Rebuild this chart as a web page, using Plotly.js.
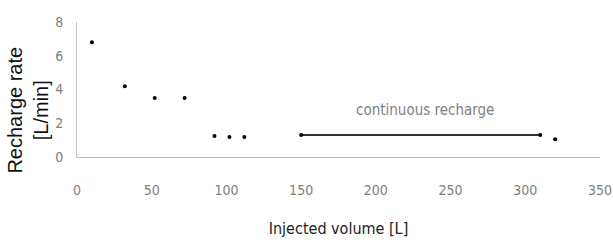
<!DOCTYPE html>
<html><head><meta charset="utf-8">
<script src="https://cdn.plot.ly/plotly-3.0.1.min.js"></script>
<style>body{margin:0;background:#fff}#c{width:613px;height:244px}</style>
</head><body><div id="c"></div>
<script>
const volume = [10, 32, 52, 72, 92, 102, 112, 320];
const rate = [6.8, 4.2, 3.5, 3.5, 1.25, 1.18, 1.18, 1.05];
const contVolume = [150, 310];
const contRate = [1.3, 1.3];
const xTicks = [0, 50, 100, 150, 200, 250, 300, 350];
const yTicks = [0, 2, 4, 6, 8];
const annText = "continuous recharge";
const annPos = [233, 2.8];
const yTitle = "Recharge rate<br>[L/min]";

const narrow = "DejaVu Sans Condensed, Liberation Sans Narrow, sans-serif";
const tickFont = {family: narrow, size: 14, color: "#7f7f7f"};
const data = [
  {x: volume, y: rate, type: "scatter", mode: "markers",
   marker: {color: "#000", size: 4}, hoverinfo: "none"},
  {x: contVolume, y: contRate, type: "scatter", mode: "lines+markers",
   line: {color: "#333", width: 2}, marker: {color: "#000", size: 4}, hoverinfo: "none"}
];
const layout = {
  width: 613, height: 244, showlegend: false,
  margin: {l: 77, r: 13, t: 22, b: 87},
  paper_bgcolor: "#fff", plot_bgcolor: "#fff",
  xaxis: {range: [0, 350], tickvals: xTicks, ticktext: xTicks.map(String),
    showgrid: false, zeroline: false, showline: true, linecolor: "#bfbfbf", linewidth: 1,
    ticks: "", tickfont: tickFont, ticklabelstandoff: 20,
    title: {text: "Injected volume [L]", font: {family: narrow, size: 16, color: "#222"}, standoff: 26}},
  yaxis: {range: [0, 8], tickvals: yTicks, ticktext: yTicks.map(String),
    showgrid: false, zeroline: false, showline: true, linecolor: "#bfbfbf", linewidth: 1,
    ticks: "", tickfont: tickFont, ticklabelstandoff: 10},
  annotations: [
    {x: annPos[0], y: annPos[1], text: annText, showarrow: false,
     font: {family: narrow, size: 15, color: "#7f7f7f"}},
    {xref: "paper", yref: "paper", x: -0.094, y: 0.35, xanchor: "center", yanchor: "middle",
     text: yTitle, textangle: -90, showarrow: false,
     font: {family: "Liberation Sans, Arial, sans-serif", size: 20, color: "#111"}}
  ]
};
Plotly.newPlot("c", data, layout, {staticPlot: true});
</script></body></html>
